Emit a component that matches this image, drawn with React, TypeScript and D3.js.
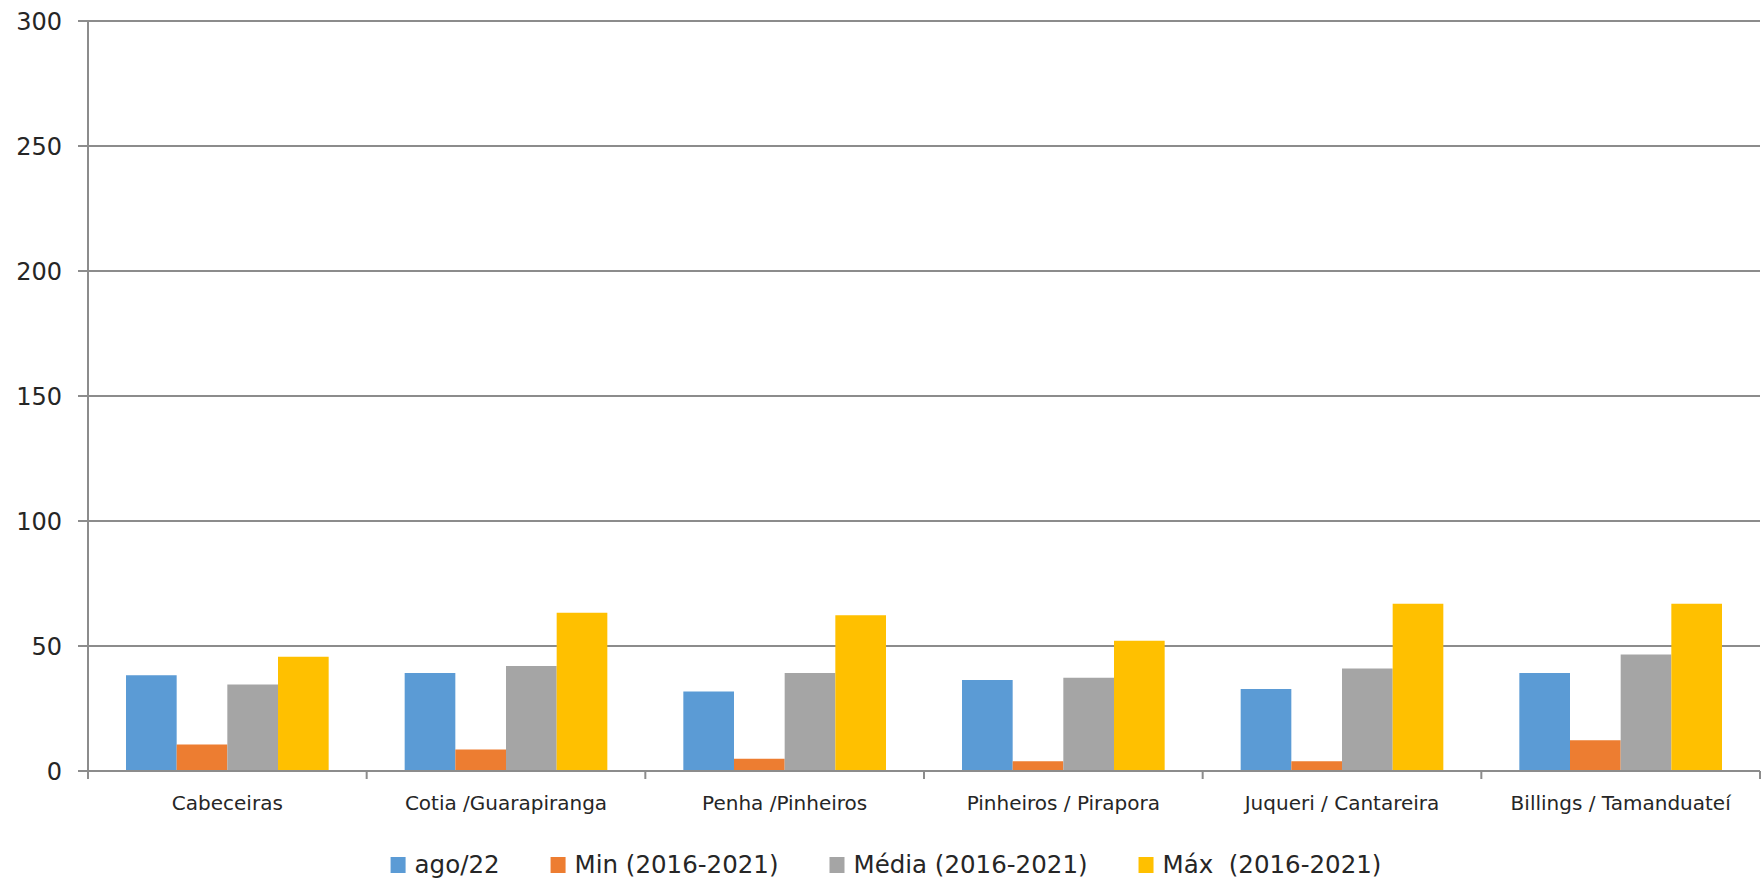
import React, { useEffect, useRef } from "react";
import * as d3 from "d3";

const categories = [
  "Cabeceiras",
  "Cotia /Guarapiranga",
  "Penha /Pinheiros",
  "Pinheiros / Pirapora",
  "Juqueri / Cantareira",
  "Billings / Tamanduateí",
];
const seriesNames = ["ago/22", "Min (2016-2021)", "Média (2016-2021)", "Máx  (2016-2021)"];
const ago22 = [38.3, 39.2, 31.8, 36.4, 32.8, 39.2];
const minVals = [10.6, 8.6, 4.9, 3.9, 3.9, 12.3];
const mediaVals = [34.6, 42.0, 39.2, 37.3, 41.0, 46.6];
const maxVals = [45.7, 63.3, 62.3, 52.1, 66.9, 66.9];
const yTicks = [0, 50, 100, 150, 200, 250, 300];
const colors = ["#5B9BD5", "#ED7D31", "#A5A5A5", "#FFC000"];

const W = 1764;
const H = 881;
const FONT = "'DejaVu Sans', sans-serif";

export default function App() {
  const ref = useRef<SVGSVGElement>(null);

  useEffect(() => {
    const svg = d3.select(ref.current);
    svg.selectAll("*").remove();

    const left = 88;
    const right = 1760;
    const top = 21;
    const bottom = 771;
    const series = [ago22, minVals, mediaVals, maxVals];

    const x = d3.scaleBand<string>().domain(categories).range([left, right]).paddingInner(0).paddingOuter(0);
    const y = d3.scaleLinear().domain([0, 300]).range([bottom, top]);
    const bw = x.bandwidth() / 5.5;
    const xs = d3.scaleBand<number>().domain([0, 1, 2, 3]).range([0.75 * bw, 4.75 * bw]).padding(0);

    const axisColor = "#8c8c8c";

    svg
      .append("g")
      .selectAll("line")
      .data(yTicks)
      .join("line")
      .attr("x1", left - 10)
      .attr("x2", right)
      .attr("y1", (d) => y(d))
      .attr("y2", (d) => y(d))
      .attr("stroke", axisColor)
      .attr("stroke-width", 2);

    svg
      .append("g")
      .selectAll("text")
      .data(yTicks)
      .join("text")
      .attr("x", 62)
      .attr("y", (d) => y(d) + 8.5)
      .attr("text-anchor", "end")
      .attr("font-family", FONT)
      .attr("font-size", 24)
      .attr("fill", "#262626")
      .text((d) => String(d));

    const g = svg.append("g");
    series.forEach((vals, si) => {
      g.append("g")
        .selectAll("rect")
        .data(vals)
        .join("rect")
        .attr("x", (_d, i) => (x(categories[i]) as number) + (xs(si) as number))
        .attr("width", xs.bandwidth())
        .attr("y", (d) => y(d))
        .attr("height", (d) => y(0) - y(d))
        .attr("fill", colors[si]);
    });

    svg
      .append("line")
      .attr("x1", left)
      .attr("x2", left)
      .attr("y1", top)
      .attr("y2", bottom + 8)
      .attr("stroke", axisColor)
      .attr("stroke-width", 2);
    svg
      .append("line")
      .attr("x1", left)
      .attr("x2", right)
      .attr("y1", bottom)
      .attr("y2", bottom)
      .attr("stroke", axisColor)
      .attr("stroke-width", 2);
    const tickXs = categories.map((c) => x(c) as number).concat([right]);
    svg
      .append("g")
      .selectAll("line")
      .data(tickXs)
      .join("line")
      .attr("x1", (d) => d)
      .attr("x2", (d) => d)
      .attr("y1", bottom)
      .attr("y2", bottom + 8)
      .attr("stroke", axisColor)
      .attr("stroke-width", 2);

    svg
      .append("g")
      .selectAll("text")
      .data(categories)
      .join("text")
      .attr("x", (d) => (x(d) as number) + x.bandwidth() / 2)
      .attr("y", 810)
      .attr("text-anchor", "middle")
      .attr("font-family", FONT)
      .attr("font-size", 20)
      .attr("fill", "#262626")
      .text((d) => d);

    const lg = svg.append("g");
    const items = seriesNames.map((name, i) => {
      const it = lg.append("g");
      it.append("rect").attr("x", 0).attr("y", -16).attr("width", 15).attr("height", 16).attr("fill", colors[i]);
      const t = it
        .append("text")
        .attr("x", 24)
        .attr("y", 0)
        .attr("font-family", FONT)
        .attr("font-size", 24.5)
        .attr("fill", "#262626")
        .style("white-space", "pre")
        .attr("xml:space", "preserve")
        .text(name);
      const w = (t.node() as SVGTextElement).getComputedTextLength();
      return { it, w: 24 + w };
    });
    const gap = 51;
    const total = d3.sum(items, (d) => d.w) + gap * (items.length - 1);
    let cx = 886 - total / 2;
    items.forEach((d) => {
      d.it.attr("transform", `translate(${cx},${873})`);
      cx += d.w + gap;
    });
  }, []);

  return (
    <svg
      ref={ref}
      width={W}
      height={H}
      style={{ position: "absolute", left: 0, top: 0, background: "#fff" }}
    />
  );
}
